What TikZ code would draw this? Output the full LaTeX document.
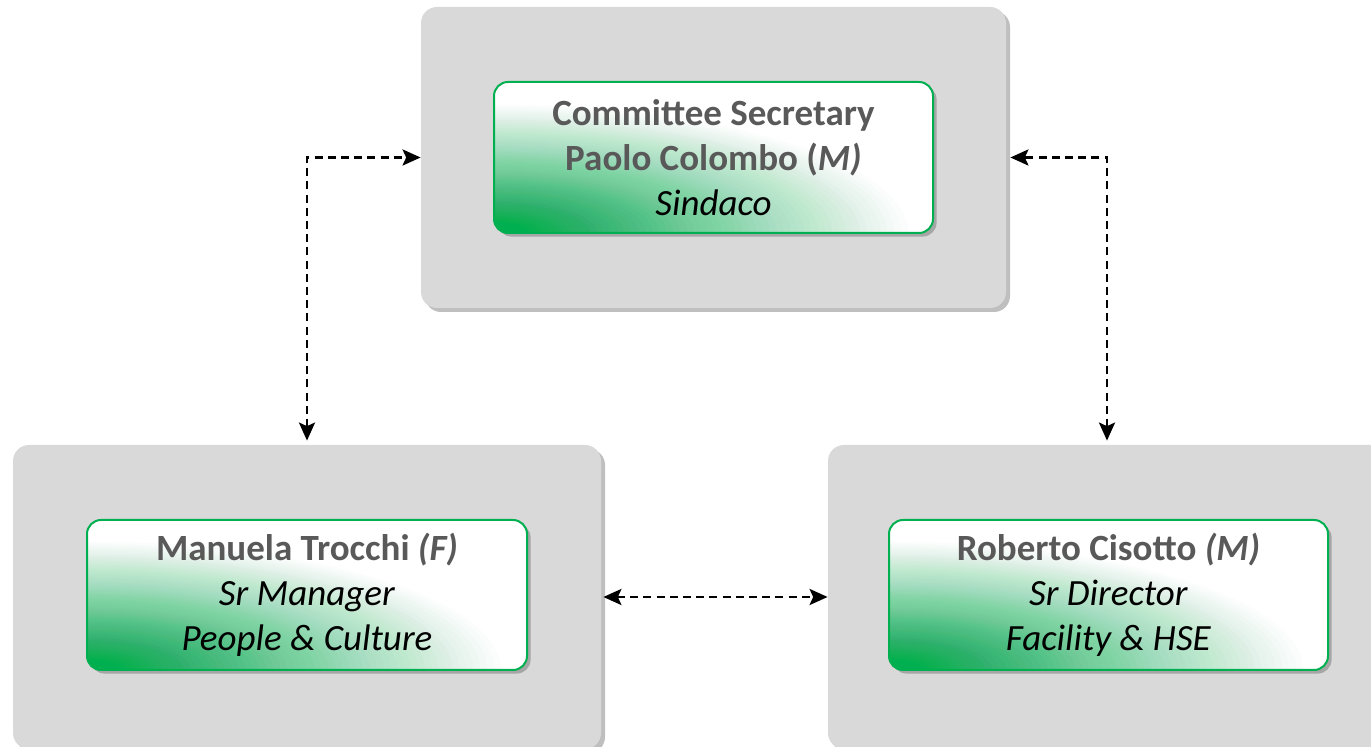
\documentclass[tikz,border=0pt]{standalone}
\usepackage{fontspec}
\setmainfont{Carlito}
\usetikzlibrary{arrows.meta,shadows}
\definecolor{gA}{HTML}{00B050}
\definecolor{boxgray}{HTML}{D9D9D9}
\definecolor{shgray}{HTML}{BFBFBF}
\definecolor{shgray2}{HTML}{A6A6A6}
\definecolor{txtgray}{HTML}{595959}
\tikzset{
  outerbox/.style={draw=none, fill=boxgray, rounded corners=8pt, inner sep=0pt,
    drop shadow={shadow xshift=2pt, shadow yshift=-2pt, fill=shgray, opacity=1}},
  rolebox/.style={draw=gA, line width=1pt, rounded corners=7pt, inner sep=0pt,
    fill=white, align=center,
    font=\fontsize{18.5}{22.5}\selectfont,
    minimum width=219.5pt, minimum height=75.5pt,
    path picture={\foreach \j in {1,...,60}{\pgfmathsetmacro\op{0.97/\j}
      \fill[gA, fill opacity=\op] (path picture bounding box.south west)
        ellipse [x radius=\j*3.45pt, y radius=\j*1.07pt];}},
    drop shadow={shadow xshift=1.8pt, shadow yshift=-1.8pt, fill=shgray2, opacity=1}},
  link/.style={line width=1.4pt, dash pattern=on 4pt off 2.6pt,
    {Stealth[length=9pt,width=8pt,inset=1.8pt]}-{Stealth[length=9pt,width=8pt,inset=1.8pt]}}
}
\begin{document}
\begin{tikzpicture}[x=0.5pt,y=-0.5pt]
\useasboundingbox (0,0) rectangle (1371,747);
% outer gray boxes
\node[outerbox, minimum width=292.5pt, minimum height=150.5pt] (tg) at (713.5,157.5) {};
\node[outerbox, minimum width=294pt, minimum height=152pt] (lg) at (307,597) {};
\node[outerbox, minimum width=279pt, minimum height=152pt] (rg) at (1107,597) {};
% role boxes
\node[rolebox] (tc) at (713.5,157.5) {\textbf{\color{txtgray}Committee Secretary}\\
  \textbf{\color{txtgray}Paolo Colombo (\textit{M)}}\\ \textit{Sindaco}};
\node[rolebox, minimum width=220pt, minimum height=75pt] (lc) at (307,595) {\textbf{\color{txtgray}Manuela Trocchi \textit{(F)}}\\
  \textit{Sr Manager}\\ \textit{People \& Culture}};
\node[rolebox, minimum width=219.5pt, minimum height=75pt] (rc) at (1108.5,595) {\textbf{\color{txtgray}Roberto Cisotto \textit{(M)}}\\
  \textit{Sr Director}\\ \textit{Facility \& HSE}};
% connectors
\draw[link] ([yshift=2pt]lg.north) |- (tg.west);
\draw[link] ([yshift=2pt]rg.north) |- ([xshift=2pt]tg.east);
\draw[link] ([xshift=1pt]lg.east) -- (rg.west);
\end{tikzpicture}
\end{document}
